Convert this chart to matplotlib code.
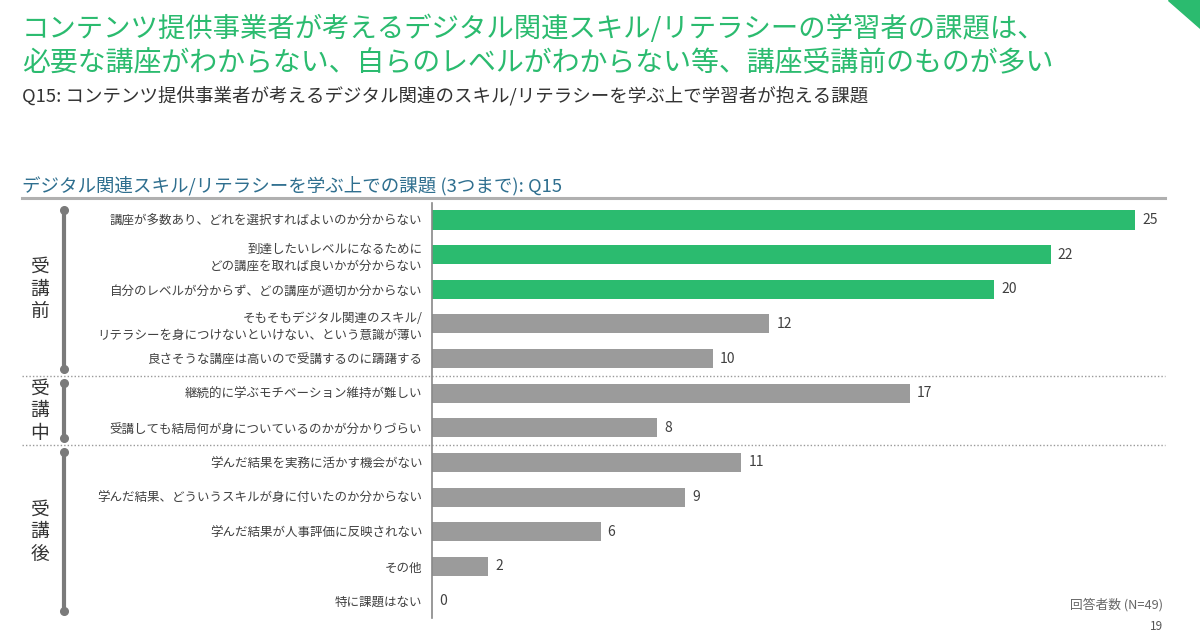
import matplotlib
matplotlib.use("Agg")
import matplotlib.pyplot as plt
import matplotlib.transforms as mtransforms
from matplotlib.patches import Polygon

plt.rcParams['font.family'] = ['Noto Sans CJK JP', 'DejaVu Sans']

# ---- data ----
categories = [
    "講座が多数あり、どれを選択すればよいのか分からない",
    "到達したいレベルになるために\nどの講座を取れば良いかが分からない",
    "自分のレベルが分からず、どの講座が適切か分からない",
    "そもそもデジタル関連のスキル/\nリテラシーを身につけないといけない、という意識が薄い",
    "良さそうな講座は高いので受講するのに躊躇する",
    "継続的に学ぶモチベーション維持が難しい",
    "受講しても結局何が身についているのかが分かりづらい",
    "学んだ結果を実務に活かす機会がない",
    "学んだ結果、どういうスキルが身に付いたのか分からない",
    "学んだ結果が人事評価に反映されない",
    "その他",
    "特に課題はない",
]
values = [25, 22, 20, 12, 10, 17, 8, 11, 9, 6, 2, 0]
highlighted = [True, True, True, False, False, False, False, False, False, False, False, False]
group_names = ["受講前", "受講中", "受講後"]
group_sizes = [5, 2, 5]

title_lines = [
    "コンテンツ提供事業者が考えるデジタル関連スキル/リテラシーの学習者の課題は、",
    "必要な講座がわからない、自らのレベルがわからない等、講座受講前のものが多い",
]
subtitle = "Q15: コンテンツ提供事業者が考えるデジタル関連のスキル/リテラシーを学ぶ上で学習者が抱える課題"
chart_title = "デジタル関連スキル/リテラシーを学ぶ上での課題 (3つまで): Q15"
note = "回答者数 (N=49)"
page = "19"

GREEN = "#2bbb6f"
GRAY = "#9b9b9b"
TEXT = "#404040"
BRACKET = "#7a7a7a"

W, H = 1200, 642
fig = plt.figure(figsize=(W / 100, H / 100), dpi=100)

def fx(px):
    return px / W

def fy(py):
    return 1 - py / H

# titles
fig.text(fx(22), fy(29), title_lines[0], color=GREEN, fontsize=19.7, va='center', ha='left')
fig.text(fx(22), fy(63), title_lines[1], color=GREEN, fontsize=20.1, va='center', ha='left')
fig.text(fx(22), fy(96), subtitle, color="#333333", fontsize=13.3, va='center', ha='left')
fig.text(fx(22), fy(186), chart_title, color="#2f6f8f", fontsize=13.3, va='center', ha='left')
fig.add_artist(plt.Line2D([fx(22), fx(1165)], [fy(198), fy(198)], color="#b0b0b0", lw=2.2))

# top-right decorative corner
fig.add_artist(Polygon([[fx(1168), 1.0], [fx(1200), 1.0], [fx(1200), fy(28)]],
                       closed=True, color=GREEN, transform=fig.transFigure))

# bars axes
ax_left, ax_right = 432, 1165
ax_top, ax_bottom = 203, 618
ax = fig.add_axes([fx(ax_left), fy(ax_bottom), fx(ax_right - ax_left), (ax_bottom - ax_top) / H])
n = len(categories)
ypos = list(range(n))
colors = [GREEN if h else GRAY for h in highlighted]
ax.barh(ypos, values, height=0.55, color=colors)
ax.set_ylim(n - 0.51, -0.49)
ax.set_xlim(0, (ax_right - ax_left) / 28.12)
for s in ['top', 'right', 'bottom']:
    ax.spines[s].set_visible(False)
ax.spines['left'].set_color("#888888")
ax.spines['left'].set_linewidth(1.2)
ax.set_xticks([])
ax.set_yticks(ypos)
ax.set_yticklabels(categories, fontsize=9, color=TEXT, linespacing=1.35)
ax.tick_params(axis='y', length=0, pad=7)
for y, v in zip(ypos, values):
    ax.text(v + 0.25, y, str(v), va='center', ha='left', fontsize=10, color=TEXT)

# separators and brackets
trans = mtransforms.blended_transform_factory(fig.transFigure, ax.transData)
start = 0
for gi, (name, size) in enumerate(zip(group_names, group_sizes)):
    top = start - 0.29
    bot = start + size - 1 + 0.29
    ax.plot([fx(64), fx(64)], [top, bot], color=BRACKET, lw=3, transform=trans, clip_on=False,
            solid_capstyle='butt')
    ax.plot([fx(64), fx(64)], [top, bot], 'o', color=BRACKET, ms=5.5, transform=trans, clip_on=False)
    mid = (top + bot) / 2
    ax.text(fx(40), mid, "\n".join(name), transform=trans, ha='center', va='center',
            fontsize=13.5, color="#333333", linespacing=1.1, clip_on=False)
    if gi < len(group_names) - 1:
        sep = start + size - 0.5
        ax.plot([fx(22), fx(1165)], [sep, sep], color="#999999", lw=1, ls=(0, (1, 1.5)),
                transform=trans, clip_on=False)
    start += size

fig.text(fx(1163), fy(605), note, color="#666666", fontsize=9.2, ha='right', va='center')
fig.text(fx(1163), fy(627), page, color="#555555", fontsize=8.5, ha='right', va='center')

fig.savefig("out.png", dpi=100, facecolor='white')
